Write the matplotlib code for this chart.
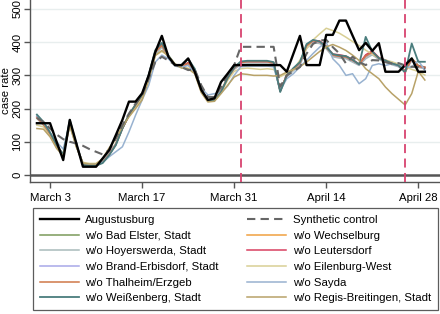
import matplotlib
matplotlib.use("Agg")
import matplotlib.pyplot as plt
import numpy as np

plt.rcParams['font.family'] = ['Liberation Sans', 'DejaVu Sans']

# day index 0 = March 1
days = list(range(60))
tick_days = [2, 16, 30, 44, 58]
tick_labels = ["March 3", "March 17", "March 31", "April 14", "April 28"]
event_days = [31, 56]

augustusburg = [156,156,156,100,45,166,95,25,25,25,
                50,75,120,166,221,221,246,300,370,419,
                356,331,331,351,311,256,226,231,280,305,
                331,331,331,331,331,331,331,331,311,365,
                419,331,331,331,422,422,465,465,420,376,
                398,374,397,311,311,311,331,351,311,311]
synthetic = [172,160,140,122,108,100,95,88,78,70,
             62,75,110,150,185,215,240,290,340,356,
             345,332,325,316,318,270,235,235,265,300,
             331,386,386,386,386,386,386,266,300,312,
             325,365,395,405,407,385,366,336,356,340,
             331,346,345,340,335,337,330,326,325,320]
bad_elster = [175,155,125,90,62,160,90,33,30,30,
              38,62,92,140,180,210,240,300,372,392,
              358,332,328,338,318,258,226,226,252,292,
              322,340,342,342,342,342,338,252,302,320,
              338,390,405,402,385,362,358,356,346,333,
              360,372,352,345,336,330,312,352,330,325]
wechselburg = [172,152,122,88,60,156,88,34,31,31,
               40,64,94,142,182,212,238,298,368,388,
               356,330,326,334,316,256,225,228,254,292,
               320,338,340,340,340,340,336,256,300,318,
               336,388,402,400,383,360,356,354,344,332,
               355,368,350,343,335,328,310,348,326,322]
hoyerswerda = [170,150,120,85,58,150,85,35,32,32,
               42,66,95,140,178,208,236,292,362,385,
               352,328,324,332,314,254,228,230,255,290,
               318,332,334,334,334,334,330,258,296,314,
               330,382,398,396,380,356,352,350,340,330,
               350,362,348,340,332,326,310,345,324,320]
leutersdorf = [176,156,126,90,62,160,90,33,30,30,
               38,62,92,140,180,210,240,300,372,394,
               358,332,328,338,318,258,226,226,252,292,
               322,340,342,342,342,342,338,252,302,320,
               338,390,405,404,388,364,362,358,348,334,
               362,374,354,346,338,332,314,350,328,324]
brand_erbisdorf = [174,154,124,88,60,158,88,33,30,30,
                   38,62,92,140,180,210,238,298,370,390,
                   356,330,326,334,316,256,226,228,252,290,
                   320,338,340,340,340,340,336,254,300,318,
                   336,388,402,400,384,360,356,354,344,332,
                   356,368,350,343,335,328,311,348,326,322]
eilenburg_west = [150,145,120,82,60,148,85,38,35,35,
                  48,80,108,145,178,205,232,290,360,372,
                  360,335,325,322,310,250,222,224,248,285,
                  312,320,322,320,318,320,318,296,306,316,
                  346,380,407,425,442,435,427,415,402,390,
                  376,364,352,346,341,334,326,318,312,301]
thalheim = [172,152,124,88,60,156,88,33,30,30,
            38,62,92,140,180,210,240,298,370,390,
            356,331,327,336,316,256,226,227,252,291,
            321,339,341,341,341,341,337,253,301,319,
            337,389,404,401,384,361,357,355,345,333,
            358,370,351,344,336,329,311,350,327,323]
sayda = [178,158,128,100,78,155,90,35,32,32,
         38,55,70,85,130,180,226,270,340,361,
         350,330,325,330,310,262,241,245,248,268,
         300,326,328,328,328,328,326,255,290,305,
         326,345,366,385,400,350,330,300,305,275,
         290,330,335,330,335,330,325,325,345,315]
weissenberg = [182,160,128,90,62,166,92,30,28,28,
               36,60,90,140,182,212,242,302,376,398,
               360,332,330,350,320,258,224,224,250,292,
               324,342,344,344,344,344,340,250,300,322,
               340,394,407,402,386,364,360,358,347,333,
               416,372,352,345,336,330,308,396,341,341]
regis = [140,138,115,80,58,150,85,36,33,33,
         50,82,110,145,175,200,226,285,360,375,
         358,334,322,320,305,248,220,222,245,270,
         295,305,303,300,300,300,298,300,310,318,
         326,340,356,372,386,393,385,375,361,345,
         320,305,290,265,245,228,211,245,312,286]

W, H = 440, 314
fig = plt.figure(figsize=(W/100, H/100), dpi=100)
ax = fig.add_axes([30/W, 1-182/H, 410/W, 182/H])

ax.set_xlim(-1.05, 61.3)
ax.set_ylim(-21, 527)

for v in [100, 200, 300, 400, 500]:
    ax.axhline(v, color='#e8eeee', lw=1.0, zorder=0)
ax.axhline(0, color='#555555', lw=1.8, zorder=1)

for d in event_days:
    ax.axvline(d, color='#d8436f', lw=1.3, dashes=(5, 3), zorder=5)

lw = 1.1
h_aug, = ax.plot(days, augustusburg, color='black', lw=1.7, zorder=4, label='Augustusburg')
h_syn, = ax.plot(days, synthetic, color='#666666', lw=1.5, dashes=(4, 2.5), zorder=3, label='Synthetic control')
h1, = ax.plot(days, bad_elster, color='#7a9a5a', lw=lw, label='w/o Bad Elster, Stadt')
h2, = ax.plot(days, wechselburg, color='#f0a040', lw=lw, label='w/o Wechselburg')
h3, = ax.plot(days, hoyerswerda, color='#a8baba', lw=lw, label='w/o Hoyerswerda, Stadt')
h4, = ax.plot(days, leutersdorf, color='#d84060', lw=lw, label='w/o Leutersdorf')
h5, = ax.plot(days, brand_erbisdorf, color='#a8a8e8', lw=lw, label='w/o Brand-Erbisdorf, Stadt')
h6, = ax.plot(days, eilenburg_west, color='#d8cf95', lw=lw, label='w/o Eilenburg-West')
h7, = ax.plot(days, thalheim, color='#d07848', lw=lw, label='w/o Thalheim/Erzgeb')
h8, = ax.plot(days, sayda, color='#98b2d0', lw=lw, label='w/o Sayda')
h9, = ax.plot(days, weissenberg, color='#4a7d7d', lw=1.3, label='w/o Weißenberg, Stadt')
h10, = ax.plot(days, regis, color='#b8a268', lw=lw, label='w/o Regis-Breitingen, Stadt')

for s in ['top', 'right']:
    ax.spines[s].set_visible(False)
for s in ['left', 'bottom']:
    ax.spines[s].set_color('#555555')
    ax.spines[s].set_linewidth(1.0)

ax.set_xticks(tick_days)
ax.set_xticklabels(tick_labels)
ax.set_yticks([0, 100, 200, 300, 400, 500])
ax.set_yticklabels(['0', '100', '200', '300', '400', '500'], rotation=90, va='center')
ax.tick_params(axis='both', labelsize=8.2, color='#555555', length=4, width=1.0)
ax.tick_params(axis='x', pad=4)
ax.tick_params(axis='y', pad=1.5)
ax.set_ylabel('case rate', fontsize=8.2)
ax.yaxis.set_label_coords(-0.047, 0.5)

# row-major order as in the reference (two columns)
col1 = [h_aug, h1, h3, h5, h7, h9]
col2 = [h_syn, h2, h4, h6, h8, h10]
handles = col1 + col2
leg = fig.legend(handles=handles, ncol=2, loc='upper left',
                 bbox_to_anchor=(33/W, 1-313/H, 405/W, 105/H),
                 bbox_transform=fig.transFigure, mode='expand',
                 borderaxespad=0, fontsize=8.2, frameon=True, fancybox=False,
                 handlelength=3.4, handletextpad=0.6, labelspacing=0.5,
                 columnspacing=1.3, borderpad=0.6)
leg.get_frame().set_edgecolor('#333333')
leg.get_frame().set_linewidth(0.9)

fig.savefig('out.png', dpi=100)
